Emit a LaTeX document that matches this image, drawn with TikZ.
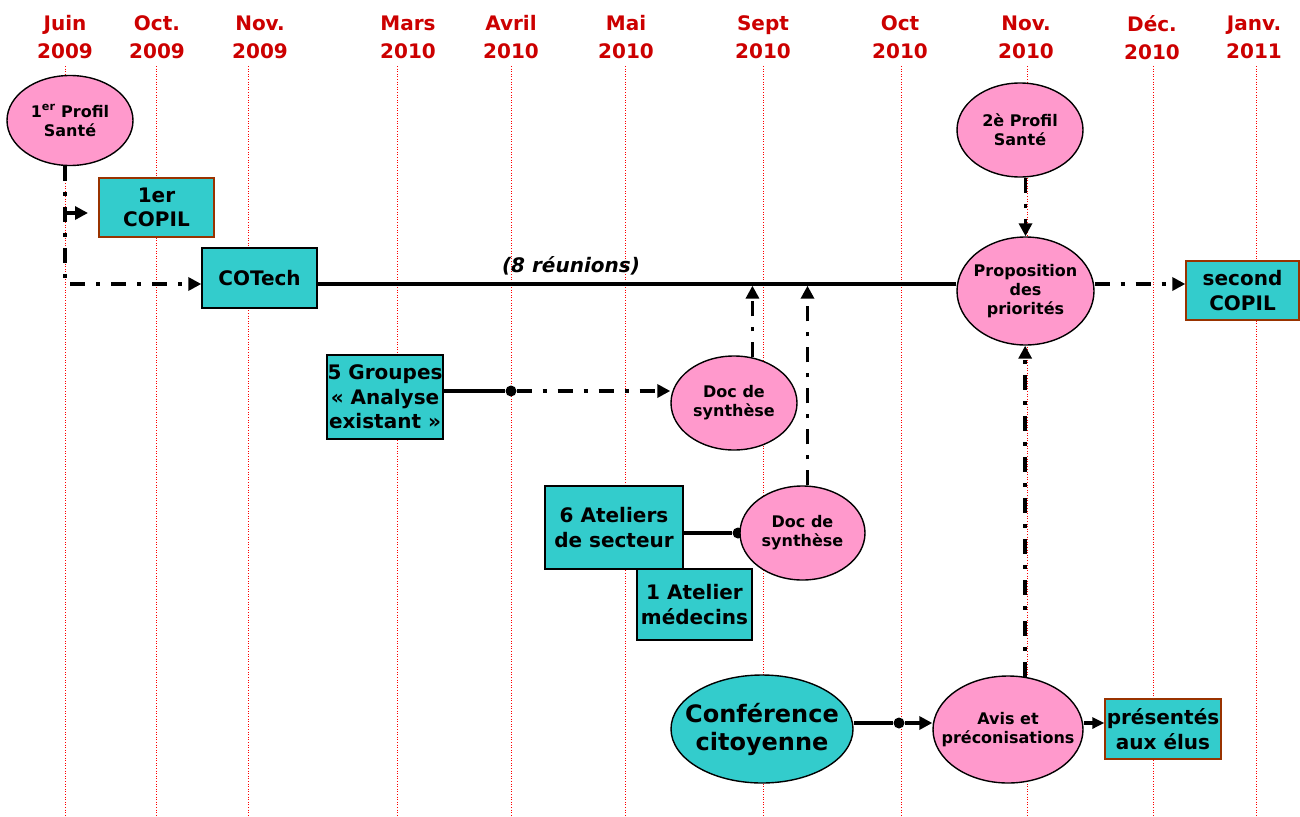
\documentclass[tikz,border=0pt]{standalone}
\usepackage{fontspec}
\setmainfont{DejaVu Sans}
\usetikzlibrary{shapes.geometric,arrows.meta,backgrounds}
\definecolor{cyanbox}{HTML}{33CCCC}
\definecolor{pinkell}{HTML}{FF99CC}
\definecolor{hdrred}{HTML}{CC0000}
\definecolor{brownb}{HTML}{993300}
\begin{document}
\begin{tikzpicture}[x=1pt,y=-1pt,
  hdr/.style={text=hdrred, font=\fontsize{20}{28}\selectfont\bfseries, align=center, inner sep=0pt},
  boxn/.style={rectangle, draw=black, line width=1.4pt, fill=cyanbox, inner sep=0pt, align=center, font=\fontsize{20}{24.5}\selectfont\bfseries},
  boxb/.style={boxn, draw=brownb},
  ell/.style={ellipse, draw=black, line width=1.4pt, fill=pinkell, inner xsep=-16pt, inner ysep=0pt, align=center, font=\fontsize{16}{19}\selectfont\bfseries},
  dd/.style={line width=3.5pt, dash pattern=on 15pt off 11pt on 4pt off 11pt},
  sl/.style={line width=3.5pt},
  tip/.style={-{Triangle[length=13pt,width=13pt]}},
  smalltip/.style={-{Triangle[length=12pt,width=11pt]}},
  gridl/.style={red, line width=1pt, dash pattern=on 1pt off 1.6pt},
  jdot/.style={circle, fill=black, inner sep=0pt, minimum size=11pt}
]
\useasboundingbox (0,0) rectangle (1300,816);

% header
\node[hdr] (h1) at (65,37.5) {Juin\\2009};
\node[hdr] (h2) at (157,37.5) {Oct.\\2009};
\node[hdr] (h3) at (260,37.5) {Nov.\\2009};
\node[hdr] (h4) at (408,37.5) {Mars\\2010};
\node[hdr] (h5) at (511,37.5) {Avril\\2010};
\node[hdr] (h6) at (626,37.5) {Mai\\2010};
\node[hdr] (h7) at (763,37.5) {Sept\\2010};
\node[hdr] (h8) at (900,37.5) {Oct\\2010};
\node[hdr] (h9) at (1026,37.5) {Nov.\\2010};
\node[hdr] (h10) at (1152,37.2) {Déc.\\2010};
\node[hdr] (h11) at (1254,37.5) {Janv.\\2011};

\coordinate (mainy) at (0,284);
\coordinate (brt) at (88,213);
\node[jdot] (gdot) at (511,391) {};
\node[jdot] (adot) at (738,533) {};
\node[jdot] (cdot) at (899,723) {};

% nodes
\node[ell, minimum width=126pt, minimum height=90pt] (p1) at (70,120.5) {1\textsuperscript{er} Profil\\Santé};
\node[boxb, minimum width=115pt, minimum height=59pt] (copil1) at (156.5,207.5) {1er\\COPIL};
\node[boxn, minimum width=115pt, minimum height=60pt] (cotech) at (259.5,278) {COTech};
\node[font=\fontsize{20}{24}\selectfont\bfseries\itshape, inner sep=0pt] (reu) at (571,266) {(8 réunions)};
\node[ell, minimum width=126pt, minimum height=94pt] (p2) at (1020,130) {2è Profil\\Santé};
\node[ell, minimum width=137pt, minimum height=108pt] (prop) at (1025.5,291) {Proposition\\des\\priorités};
\node[boxb, minimum width=113pt, minimum height=59pt] (copil2) at (1242.5,290.5) {second\\COPIL};
\node[boxn, minimum width=116pt, minimum height=84pt] (grp) at (385,397) {5 Groupes\\«~Analyse\\existant~»};
\node[ell, minimum width=126pt, minimum height=94pt] (doc1) at (734,403) {Doc de\\synthèse};
\node[boxn, minimum width=138pt, minimum height=83pt] (ate) at (614,527.5) {6 Ateliers\\de secteur};
\node[boxn, minimum width=115pt, minimum height=71pt] (med) at (694.5,604.5) {1 Atelier\\médecins};
\node[ell, minimum width=125pt, minimum height=94pt] (doc2) at (802.5,533) {Doc de\\synthèse};
\node[ell, fill=cyanbox, minimum width=182pt, minimum height=108pt, font=\fontsize{24}{28}\selectfont\bfseries] (conf) at (762,729) {Conférence\\citoyenne};
\node[ell, minimum width=150pt, minimum height=107pt] (avis) at (1008,729.5) {Avis et\\préconisations};
\node[boxb, minimum width=116pt, minimum height=60pt] (pres) at (1163,729) {présentés\\aux élus};

\begin{scope}[on background layer]
\fill[white] (0,0) rectangle (1300,816);
\foreach \gx in {65,156,248,397,511,625,763,901,1027,1153,1256}
  \draw[gridl] (\gx,66) -- (\gx,816);
\draw[dd,tip] (p1.-96) |- (cotech.west |- mainy);
\draw[sl,tip] (p1.-96 |- brt) -- (brt);
\draw[sl] (cotech.east |- mainy) -- (prop.west |- mainy);
\draw[dd,tip] (prop.east |- mainy) -- (copil2.west |- mainy);
\draw[dd,tip] (p2.south -| prop.north) -- (prop.north);
\draw[sl] (grp.east |- gdot) -- (gdot);
\draw[dd,tip] (gdot) -- (gdot -| doc1.west);
\draw[dd,tip,shorten >=1.7pt] (doc1.68) -- (doc1.68 |- mainy);
\draw[sl] (ate.east |- adot) -- (adot);
\draw[dd,tip,shorten >=1.7pt] (doc2.84) -- (doc2.84 |- mainy);
\draw[sl] (conf.east |- cdot) -- (cdot);
\draw[dd,tip] (cdot) -- (cdot -| avis.west);
\draw[sl,smalltip] (avis.east |- cdot) -- (pres.west |- cdot);
\draw[dd,tip] (avis.72) -- (avis.72 |- prop.south);
\end{scope}
\end{tikzpicture}
\end{document}
